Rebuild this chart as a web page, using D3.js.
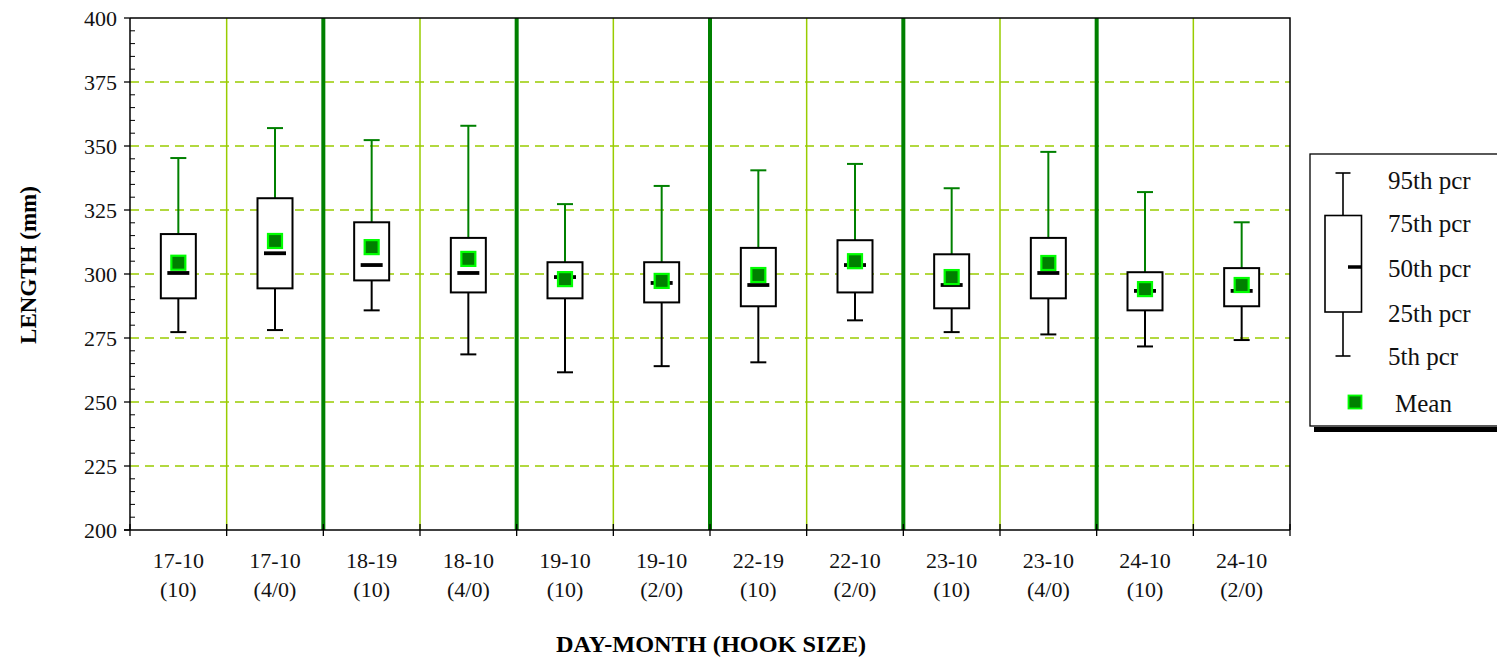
<!DOCTYPE html>
<html>
<head>
<meta charset="utf-8">
<script src="https://cdn.jsdelivr.net/npm/d3@7"></script>
<style>
  html, body { margin: 0; padding: 0; background: #fff; }
  svg { display: block; font-family: "Liberation Serif", "Times New Roman", serif; }
</style>
</head>
<body>
<svg id="chart" width="1497" height="663"></svg>
<script>
// Fish length by sampling day and hook size
const categories = ["17-10", "17-10", "18-19", "18-10", "19-10", "19-10", "22-19", "22-10", "23-10", "23-10", "24-10", "24-10"];
const hookSizes  = ["(10)", "(4/0)", "(10)", "(4/0)", "(10)", "(2/0)", "(10)", "(2/0)", "(10)", "(4/0)", "(10)", "(2/0)"];
const pcr5  = [277.3, 278.1, 285.8, 268.6, 261.6, 264.0, 265.5, 281.9, 277.3, 276.4, 271.7, 274.2];
const pcr25 = [290.5, 294.4, 297.5, 292.8, 290.5, 288.9, 287.4, 292.8, 286.6, 290.5, 285.8, 287.4];
const pcr50 = [300.4, 308.1, 303.5, 300.4, 298.8, 296.5, 295.7, 303.5, 295.7, 300.4, 293.4, 293.4];
const pcr75 = [315.6, 329.6, 320.2, 314.1, 304.6, 304.6, 310.2, 313.2, 307.7, 314.1, 300.7, 302.3];
const pcr95 = [345.3, 357.0, 352.3, 357.9, 327.3, 334.4, 340.5, 343.0, 333.5, 347.7, 332.0, 320.2];
const means = [304.4, 312.9, 310.5, 305.9, 298.0, 297.3, 299.6, 305.0, 298.8, 304.3, 294.1, 295.7];
const yTicks = [200, 225, 250, 275, 300, 325, 350, 375, 400];
const legendLabels = ["95th pcr", "75th pcr", "50th pcr", "25th pcr", "5th pcr", "Mean"];

(function () {
  const rows = categories.map((c, i) => ({
    key: String(i), day: c.split("-")[0], label: c, hook: hookSizes[i],
    p5: pcr5[i], p25: pcr25[i], p50: pcr50[i], p75: pcr75[i], p95: pcr95[i], mean: means[i]
  }));

  const svg = d3.select("#chart");
  const pL = 130, pR = 1290, pT = 18, pB = 530;

  const x = d3.scaleBand().domain(rows.map(d => d.key)).range([pL, pR]).padding(0);
  const y = d3.scaleLinear().domain([200, 400]).range([pB, pT]);
  const bw = x.bandwidth();
  const cx = d => x(d.key) + bw / 2;

  const GRID = "#99cc00", DARK = "#008000", BRIGHT = "#00ff00";

  // horizontal dashed gridlines
  svg.append("g").selectAll("line")
    .data(yTicks.filter(t => t > 200 && t < 400))
    .join("line")
    .attr("x1", pL).attr("x2", pR)
    .attr("y1", d => y(d)).attr("y2", d => y(d))
    .attr("stroke", GRID).attr("stroke-width", 1.3)
    .attr("stroke-dasharray", "9,6");

  // vertical separators: thick between days, thin within a day
  const seps = rows.slice(0, -1).map((d, i) => ({ x: x(rows[i + 1].key), thick: d.day !== rows[i + 1].day }));
  svg.append("g").selectAll("line")
    .data(seps)
    .join("line")
    .attr("x1", d => d.x).attr("x2", d => d.x)
    .attr("y1", pT).attr("y2", pB)
    .attr("stroke", d => d.thick ? DARK : GRID)
    .attr("stroke-width", d => d.thick ? 4 : 1.5);

  // frame: top and right edges
  svg.append("path")
    .attr("d", `M${pL},${pT}H${pR}V${pB}`)
    .attr("fill", "none").attr("stroke", "#000").attr("stroke-width", 1.5);

  // y axis
  const yAxis = svg.append("g");
  yAxis.append("line").attr("x1", pL).attr("x2", pL).attr("y1", pT).attr("y2", pB)
    .attr("stroke", "#000").attr("stroke-width", 1.5);
  yAxis.selectAll("line.minor")
    .data(d3.range(200, 401, 5).filter(v => v % 25 !== 0))
    .join("line").attr("class", "minor")
    .attr("x1", pL).attr("x2", pL + 5)
    .attr("y1", d => y(d)).attr("y2", d => y(d))
    .attr("stroke", "#000").attr("stroke-width", 1);
  yAxis.selectAll("line.major")
    .data(yTicks)
    .join("line").attr("class", "major")
    .attr("x1", pL - 6).attr("x2", pL)
    .attr("y1", d => y(d)).attr("y2", d => y(d))
    .attr("stroke", "#000").attr("stroke-width", 1.3);
  yAxis.selectAll("text")
    .data(yTicks)
    .join("text")
    .attr("x", pL - 13).attr("y", d => y(d)).attr("dy", "0.35em")
    .attr("text-anchor", "end").attr("font-size", 22).attr("fill", "#111")
    .text(d => d);

  // x axis
  const xAxis = svg.append("g");
  xAxis.append("line").attr("x1", pL - 6).attr("x2", pR).attr("y1", pB).attr("y2", pB)
    .attr("stroke", "#000").attr("stroke-width", 1.5);
  xAxis.selectAll("line.tick")
    .data(rows.map(d => x(d.key)).concat([pR]))
    .join("line").attr("class", "tick")
    .attr("x1", d => d).attr("x2", d => d)
    .attr("y1", pB - 6).attr("y2", pB + 6)
    .attr("stroke", "#000").attr("stroke-width", 1.3);
  const xl = xAxis.selectAll("text")
    .data(rows)
    .join("text")
    .attr("text-anchor", "middle").attr("font-size", 22).attr("fill", "#111");
  xl.append("tspan").attr("x", d => cx(d)).attr("y", 568).text(d => d.label);
  xl.append("tspan").attr("x", d => cx(d)).attr("y", 597).text(d => d.hook);

  // axis titles
  svg.append("text")
    .attr("transform", "translate(36,265) rotate(-90)")
    .attr("text-anchor", "middle").attr("font-size", 23).attr("font-weight", "bold")
    .text("LENGTH (mm)");
  svg.append("text")
    .attr("x", 711).attr("y", 652)
    .attr("text-anchor", "middle").attr("font-size", 24).attr("font-weight", "bold")
    .attr("textLength", 310).attr("lengthAdjust", "spacingAndGlyphs")
    .text("DAY-MONTH (HOOK SIZE)");

  // box plots
  const boxW = 35, capW = 16, medW = 22, meanS = 14;
  const g = svg.append("g").selectAll("g").data(rows).join("g");
  // upper whisker (green)
  g.append("line")
    .attr("x1", cx).attr("x2", cx)
    .attr("y1", d => y(d.p95)).attr("y2", d => y(d.p75))
    .attr("stroke", DARK).attr("stroke-width", 2);
  g.append("line")
    .attr("x1", d => cx(d) - capW / 2).attr("x2", d => cx(d) + capW / 2)
    .attr("y1", d => y(d.p95)).attr("y2", d => y(d.p95))
    .attr("stroke", DARK).attr("stroke-width", 2);
  // lower whisker (black)
  g.append("line")
    .attr("x1", cx).attr("x2", cx)
    .attr("y1", d => y(d.p25)).attr("y2", d => y(d.p5))
    .attr("stroke", "#000").attr("stroke-width", 2);
  g.append("line")
    .attr("x1", d => cx(d) - capW / 2).attr("x2", d => cx(d) + capW / 2)
    .attr("y1", d => y(d.p5)).attr("y2", d => y(d.p5))
    .attr("stroke", "#000").attr("stroke-width", 2);
  // box
  g.append("rect")
    .attr("x", d => cx(d) - boxW / 2).attr("width", boxW)
    .attr("y", d => y(d.p75)).attr("height", d => y(d.p25) - y(d.p75))
    .attr("fill", "#fff").attr("stroke", "#000").attr("stroke-width", 2);
  // median
  g.append("line")
    .attr("x1", d => cx(d) - medW / 2).attr("x2", d => cx(d) + medW / 2)
    .attr("y1", d => y(d.p50)).attr("y2", d => y(d.p50))
    .attr("stroke", "#000").attr("stroke-width", 3.8);
  // mean
  g.append("rect")
    .attr("x", d => cx(d) - meanS / 2).attr("y", d => y(d.mean) - meanS / 2)
    .attr("width", meanS).attr("height", meanS)
    .attr("fill", DARK).attr("stroke", BRIGHT).attr("stroke-width", 2.2);

  // legend
  const lg = svg.append("g");
  lg.append("rect").attr("x", 1314).attr("y", 427).attr("width", 200).attr("height", 5).attr("fill", "#000");
  lg.append("rect").attr("x", 1310).attr("y", 154).attr("width", 200).attr("height", 272)
    .attr("fill", "#fff").attr("stroke", "#000").attr("stroke-width", 1.3);
  const lx = 1343;
  const ly = { p95: 173, p75: 215.5, p50: 267, p25: 312, p5: 356, mean: 402 };
  lg.append("line").attr("x1", lx).attr("x2", lx).attr("y1", ly.p95).attr("y2", ly.p5)
    .attr("stroke", "#000").attr("stroke-width", 1.6);
  [ly.p95, ly.p5].forEach(v => lg.append("line")
    .attr("x1", lx - 7.5).attr("x2", lx + 7.5).attr("y1", v).attr("y2", v)
    .attr("stroke", "#000").attr("stroke-width", 1.6));
  lg.append("rect").attr("x", 1325).attr("y", ly.p75).attr("width", 36.5).attr("height", ly.p25 - ly.p75)
    .attr("fill", "#fff").attr("stroke", "#000").attr("stroke-width", 1.6);
  lg.append("line").attr("x1", 1348).attr("x2", 1361.5).attr("y1", ly.p50).attr("y2", ly.p50)
    .attr("stroke", "#000").attr("stroke-width", 3.5);
  lg.append("rect").attr("x", 1355 - 6.5).attr("y", ly.mean - 6.5).attr("width", 13).attr("height", 13)
    .attr("fill", DARK).attr("stroke", BRIGHT).attr("stroke-width", 1.8);
  const labelY = [180, 223, 268, 313, 356, 403];
  lg.selectAll("text.lbl")
    .data(legendLabels)
    .join("text").attr("class", "lbl")
    .attr("x", (d, i) => i === 5 ? 1395 : 1388).attr("y", (d, i) => labelY[i]).attr("dy", "0.35em")
    .attr("font-size", 25).attr("fill", "#111")
    .text(d => d);
})();
</script>
</body>
</html>
